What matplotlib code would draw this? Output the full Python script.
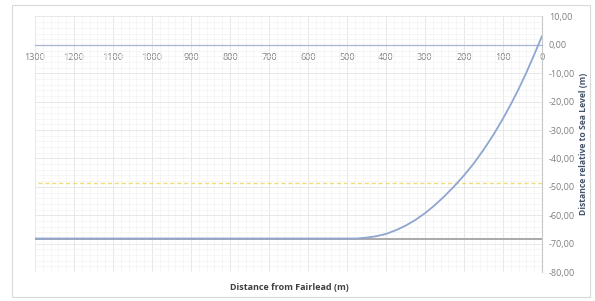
import numpy as np
import matplotlib
matplotlib.use("Agg")
import matplotlib.pyplot as plt
import matplotlib.ticker as mticker
from matplotlib.patches import Rectangle

# mooring line profile (distance from fairlead, elevation)
dist = [0, 20, 40, 60, 80, 100, 125, 150, 175, 200, 225, 250, 275, 300,
        325, 350, 375, 400, 425, 450, 475, 1300]
elev = [3.0, -3.5, -9.8, -15.6, -21.0, -26.0, -31.8, -37.0, -41.8, -46.0,
        -49.8, -53.3, -56.5, -59.3, -61.7, -63.7, -65.3, -66.6, -67.4, -67.9,
        -68.2, -68.2]

seabed_x = [0, 1300]
seabed_y = [-68.5, -68.5]
dashed_x = [0, 1300]
dashed_y = [-48.8, -48.8]

x_ticks = list(range(0, 1301, 100))
y_ticks = list(range(-80, 11, 10))

plt.rcParams['font.family'] = ['Open Sans', 'DejaVu Sans']

fig = plt.figure(figsize=(5.95, 3.01), dpi=100)
ax = fig.add_axes([0.0588, 0.0963, 0.852, 0.849])

# outer chart border
fig.patches.append(Rectangle((12 / 595, 4 / 301), 578 / 595, 292 / 301,
                             transform=fig.transFigure, fill=False,
                             edgecolor='#d9d9d9', lw=0.8))

ax.set_xlim(1300, 0)
ax.set_ylim(-80, 10)

ax.set_xticks(x_ticks)
ax.set_yticks(y_ticks)
ax.xaxis.set_minor_locator(mticker.MultipleLocator(20))
ax.yaxis.set_minor_locator(mticker.MultipleLocator(2))
ax.grid(which='major', color='#e4e4e4', lw=0.6)
ax.grid(which='minor', color='#f3f3f3', lw=0.5)
ax.set_axisbelow(True)

ax.plot(seabed_x, seabed_y, color='#a9a9a9', lw=1.4, zorder=3)
ax.plot(dashed_x, dashed_y, color='#f2dc7a', lw=1.0, ls=(0, (3, 2)), zorder=3)
ax.plot(dist, elev, color='#8fa5d2', lw=1.3, zorder=4)

for s in ['top', 'left']:
    ax.spines[s].set_visible(False)
ax.spines['bottom'].set_position(('data', 0))
ax.spines['bottom'].set_color('#aab6d3')
ax.spines['bottom'].set_linewidth(0.9)
ax.spines['right'].set_color('#c8c8c8')
ax.spines['right'].set_linewidth(0.8)

ax.yaxis.tick_right()
ax.yaxis.set_label_position('right')
ax.yaxis.set_major_formatter(mticker.FuncFormatter(lambda v, p: f'{v:.2f}'.replace('.', ',')))
ax.tick_params(axis='both', which='both', length=0, labelsize=6.5, colors='#7f7f7f')
ax.tick_params(axis='x', pad=6)
ax.tick_params(axis='y', pad=5)

ax.set_ylabel('Distance relative to Sea Level (m)', fontsize=6.2, fontweight='bold',
              color='#44546a', labelpad=3)
fig.text(0.487, 0.045, 'Distance from Fairlead (m)', ha='center', va='center',
         fontsize=6.5, fontweight='bold', color='#404040')

fig.savefig('out.png', dpi=100)
